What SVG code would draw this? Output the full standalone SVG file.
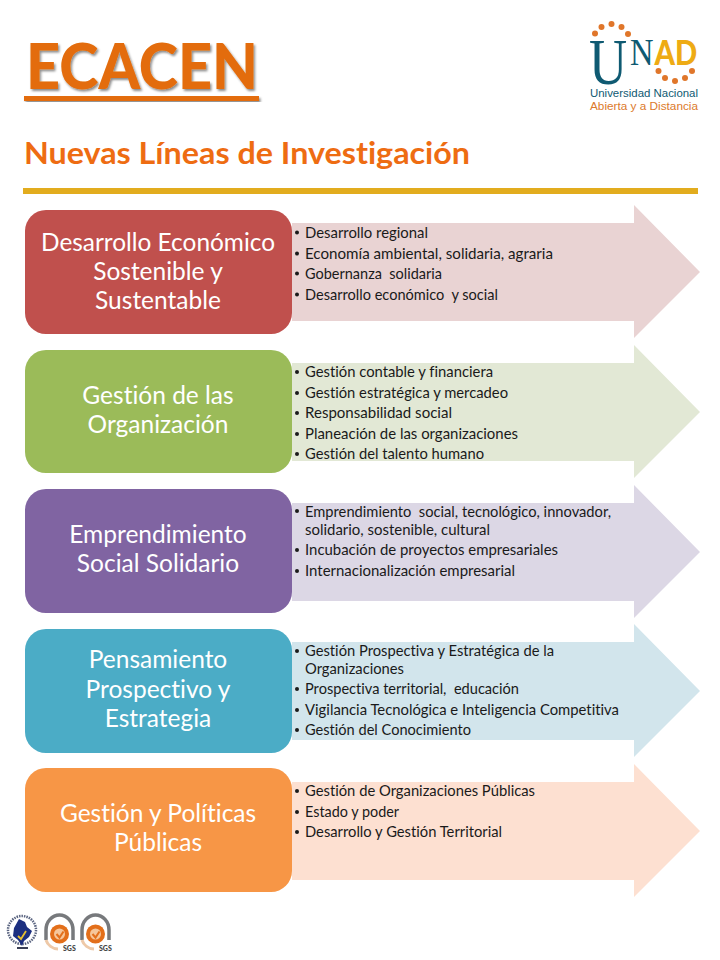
<svg xmlns="http://www.w3.org/2000/svg" width="720" height="960" viewBox="0 0 720 960">
<style>
text{font-family:Lato,"Open Sans",sans-serif;font-variant-ligatures:none;white-space:pre}
.lbl{font-size:24.5px;fill:#fff;text-anchor:middle}
.li{font-size:15px;fill:#1a1a1a}
.dot{fill:#1a1a1a}
.o{fill:#e0762a}
.serif{font-family:"Liberation Serif",serif;fill:#0f5a72}
.uni{font-family:"Liberation Sans",sans-serif;font-size:11.500px}
</style>
<defs>
<filter id="sh" x="-5%" y="-20%" width="110%" height="140%"><feDropShadow dx="1.500" dy="2" stdDeviation="1.200" flood-color="#000" flood-opacity=".45"/></filter>
<path id="arrow" d="M292 18H634V0L700 67 634 133V116H292Z"/>
<g id="seal">
<path d="M-11 6V-4a13.500 15 0 0 1 27 0V6" fill="none" stroke="#77797c" stroke-width="3.500"/>
<path d="M-11 6a13 13 0 0 0 12 9" fill="none" stroke="#eec9a8" stroke-width="3"/>
<circle cx="2.500" cy="0" r="9.500" fill="#e36f1a"/>
<circle cx="2.500" cy="0" r="5.500" fill="#f6c69a"/>
<path d="M-.5 0l3 3.500 4-6" fill="none" stroke="#e36f1a" stroke-width="2"/>
<text x="6" y="16.500" font-size="7" font-weight="900" fill="#444">SGS</text>
</g>
</defs>
<rect width="720" height="960" fill="#fff"/>
<g id="title">
<text x="26" y="89" font-size="62" font-weight="900" fill="#e36c0a" filter="url(#sh)" textLength="232" lengthAdjust="spacingAndGlyphs">ECACEN</text>
<rect x="24" y="96" width="235" height="5" fill="#e36c0a" filter="url(#sh)"/>
</g>
<g id="subtitle">
<text x="24" y="164" font-size="31" font-weight="700" fill="#ee6c12" textLength="446" lengthAdjust="spacingAndGlyphs">Nuevas Líneas de Investigación</text>
<rect x="23" y="188" width="675" height="6" fill="#e2ac1e"/>
</g>
<g id="logo-unad">
<g class="o"><circle cx="595" cy="33.500" r="3"/><circle cx="601.500" cy="27" r="3"/><circle cx="611.500" cy="24" r="3"/><circle cx="621.500" cy="27" r="3"/><circle cx="628" cy="34" r="3"/><circle cx="658.500" cy="71" r="3"/><circle cx="665" cy="78" r="3"/><circle cx="675" cy="81" r="3"/><circle cx="685" cy="78" r="3"/><circle cx="692" cy="71" r="3"/></g>
<text class="serif" transform="translate(589 84) scale(.8 1)" font-size="66">U</text>
<text class="serif" transform="translate(630 65) scale(.88 1)" font-size="37">N</text>
<text transform="translate(654.500 65) scale(.86 1)" font-size="34" font-weight="900" fill="#eeab14">AD</text>
<text class="uni" x="590" y="97" fill="#0f5a72" textLength="108" lengthAdjust="spacingAndGlyphs">Universidad Nacional</text>
<text class="uni" x="590" y="110" fill="#dc7a2c" textLength="108" lengthAdjust="spacingAndGlyphs">Abierta y a Distancia</text>
</g>
<g id="connectors">
<use href="#arrow" y="205" fill="#e9d3d3"/>
<use href="#arrow" y="345" fill="#e2e8d5"/>
<use href="#arrow" y="485" fill="#dcd7e5"/>
<use href="#arrow" y="624" fill="#d2e5ec"/>
<use href="#arrow" y="764" fill="#fde0d1"/>
</g>
<g id="node-1">
<rect x="25" y="210" width="267" height="124" rx="21" fill="#c0504d"/>
<text class="lbl" x="158" y="251" textLength="234" lengthAdjust="spacingAndGlyphs">Desarrollo Económico</text>
<text class="lbl" x="158" y="280">Sostenible y</text>
<text class="lbl" x="158" y="309">Sustentable</text>
<circle class="dot" cx="297" cy="232.500" r="2"/><text class="li" x="305" y="238" textLength="123" lengthAdjust="spacingAndGlyphs">Desarrollo regional</text>
<circle class="dot" cx="297" cy="253.500" r="2"/><text class="li" x="305" y="259" textLength="248" lengthAdjust="spacingAndGlyphs">Economía ambiental, solidaria, agraria</text>
<circle class="dot" cx="297" cy="273.500" r="2"/><text class="li" x="305" y="279" textLength="137" lengthAdjust="spacingAndGlyphs">Gobernanza  solidaria</text>
<circle class="dot" cx="297" cy="294.500" r="2"/><text class="li" x="305" y="300" textLength="193" lengthAdjust="spacingAndGlyphs">Desarrollo económico  y social</text>
</g>
<g id="node-2">
<rect x="25" y="350" width="267" height="123" rx="21" fill="#9bbb59"/>
<text class="lbl" x="158" y="404">Gestión de las</text>
<text class="lbl" x="158" y="433">Organización</text>
<circle class="dot" cx="297" cy="372" r="2"/><text class="li" x="305" y="377" textLength="188" lengthAdjust="spacingAndGlyphs">Gestión contable y financiera</text>
<circle class="dot" cx="297" cy="393" r="2"/><text class="li" x="305" y="398" textLength="203" lengthAdjust="spacingAndGlyphs">Gestión estratégica y mercadeo</text>
<circle class="dot" cx="297" cy="413" r="2"/><text class="li" x="305" y="418" textLength="147" lengthAdjust="spacingAndGlyphs">Responsabilidad social</text>
<circle class="dot" cx="297" cy="434" r="2"/><text class="li" x="305" y="439" textLength="213" lengthAdjust="spacingAndGlyphs">Planeación de las organizaciones</text>
<circle class="dot" cx="297" cy="454" r="2"/><text class="li" x="305" y="459" textLength="179" lengthAdjust="spacingAndGlyphs">Gestión del talento humano</text>
</g>
<g id="node-3">
<rect x="25" y="489" width="267" height="124" rx="21" fill="#8064a2"/>
<text class="lbl" x="158" y="543">Emprendimiento</text>
<text class="lbl" x="158" y="572">Social Solidario</text>
<circle class="dot" cx="297" cy="511" r="2"/><text class="li" x="305" y="517" textLength="306" lengthAdjust="spacingAndGlyphs">Emprendimiento  social, tecnológico, innovador,</text>
<text class="li" x="305" y="535" textLength="185" lengthAdjust="spacingAndGlyphs">solidario, sostenible, cultural</text>
<circle class="dot" cx="297" cy="550" r="2"/><text class="li" x="305" y="555" textLength="253" lengthAdjust="spacingAndGlyphs">Incubación de proyectos empresariales</text>
<circle class="dot" cx="297" cy="571" r="2"/><text class="li" x="305" y="576" textLength="210" lengthAdjust="spacingAndGlyphs">Internacionalización empresarial</text>
</g>
<g id="node-4">
<rect x="25" y="629" width="267" height="124" rx="21" fill="#4bacc6"/>
<text class="lbl" x="158" y="668">Pensamiento</text>
<text class="lbl" x="158" y="698">Prospectivo y</text>
<text class="lbl" x="158" y="727">Estrategia</text>
<circle class="dot" cx="297" cy="651" r="2"/><text class="li" x="305" y="656" textLength="249" lengthAdjust="spacingAndGlyphs">Gestión Prospectiva y Estratégica de la</text>
<text class="li" x="305" y="674" textLength="99" lengthAdjust="spacingAndGlyphs">Organizaciones</text>
<circle class="dot" cx="297" cy="689" r="2"/><text class="li" x="305" y="694" textLength="214" lengthAdjust="spacingAndGlyphs">Prospectiva territorial,  educación</text>
<circle class="dot" cx="297" cy="710" r="2"/><text class="li" x="305" y="715" textLength="314" lengthAdjust="spacingAndGlyphs">Vigilancia Tecnológica e Inteligencia Competitiva</text>
<circle class="dot" cx="297" cy="730" r="2"/><text class="li" x="305" y="735" textLength="166" lengthAdjust="spacingAndGlyphs">Gestión del Conocimiento</text>
</g>
<g id="node-5">
<rect x="25" y="768" width="267" height="124" rx="21" fill="#f79646"/>
<text class="lbl" x="158" y="822">Gestión y Políticas</text>
<text class="lbl" x="158" y="851">Públicas</text>
<circle class="dot" cx="297" cy="791" r="2"/><text class="li" x="305" y="796" textLength="230" lengthAdjust="spacingAndGlyphs">Gestión de Organizaciones Públicas</text>
<circle class="dot" cx="297" cy="812" r="2"/><text class="li" x="305" y="817" textLength="94" lengthAdjust="spacingAndGlyphs">Estado y poder</text>
<circle class="dot" cx="297" cy="832" r="2"/><text class="li" x="305" y="837" textLength="197" lengthAdjust="spacingAndGlyphs">Desarrollo y Gestión Territorial</text>
</g>
<g id="seals">
<circle cx="22" cy="930" r="14" fill="none" stroke="#5a6480" stroke-width="2.500" stroke-dasharray="1.500 1"/>
<path d="M19 919l6 3 2 5 5 4-3 6-5 4-2 5-4-6-5-4 1-8z" fill="#1c2f80"/>
<path d="M18 936l3 3 5-8" fill="none" stroke="#e8c030" stroke-width="1.800"/>
<rect x="17" y="947" width="11" height="2" fill="#3a3f55"/>
<use href="#seal" x="57" y="934"/>
<use href="#seal" x="93" y="934"/>
</g>
</svg>
